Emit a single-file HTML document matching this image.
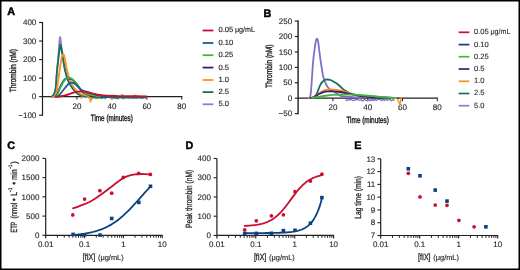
<!DOCTYPE html>
<html><head><meta charset="utf-8"><style>html,body{margin:0;padding:0;background:#fff;width:520px;height:270px;overflow:hidden}svg{display:block;}text{stroke:#231f20;stroke-width:0.12px;text-rendering:geometricPrecision}.t{stroke-width:0.4px}.t2{stroke-width:0.3px}svg{-webkit-font-smoothing:antialiased;will-change:transform}</style></head>
<body><svg width="520" height="270" viewBox="0 0 520 270" font-family='"Liberation Sans", sans-serif'>
<rect x="0" y="0" width="520" height="270" fill="#fff"/>


<text x="7.20" y="14.60" font-size="10.8" text-anchor="start" font-weight="bold" fill="#000" style="stroke:#000;stroke-width:0.45px">A</text>
<text x="263.40" y="16.90" font-size="10.8" text-anchor="start" font-weight="bold" fill="#000" style="stroke:#000;stroke-width:0.45px">B</text>
<text x="7.30" y="148.80" font-size="10.8" text-anchor="start" font-weight="bold" fill="#000" style="stroke:#000;stroke-width:0.45px">C</text>
<text x="185.40" y="148.80" font-size="10.8" text-anchor="start" font-weight="bold" fill="#000" style="stroke:#000;stroke-width:0.45px">D</text>
<text x="354.30" y="148.80" font-size="10.8" text-anchor="start" font-weight="bold" fill="#000" style="stroke:#000;stroke-width:0.45px">E</text>
<line x1="42.50" y1="22.00" x2="42.50" y2="115.79" stroke="#231f20" stroke-width="1.2" />
<line x1="39.10" y1="22.50" x2="42.50" y2="22.50" stroke="#231f20" stroke-width="1.15" />
<text x="36.30" y="25.00" font-size="8.0" text-anchor="end" font-weight="normal" fill="#231f20" style="stroke-width:0.12px">400</text>
<line x1="39.10" y1="41.04" x2="42.50" y2="41.04" stroke="#231f20" stroke-width="1.15" />
<text x="36.30" y="44.00" font-size="8.0" text-anchor="end" font-weight="normal" fill="#231f20" style="stroke-width:0.12px">300</text>
<line x1="39.10" y1="59.58" x2="42.50" y2="59.58" stroke="#231f20" stroke-width="1.15" />
<text x="36.30" y="62.00" font-size="8.0" text-anchor="end" font-weight="normal" fill="#231f20" style="stroke-width:0.12px">200</text>
<line x1="39.10" y1="78.11" x2="42.50" y2="78.11" stroke="#231f20" stroke-width="1.15" />
<text x="36.30" y="81.00" font-size="8.0" text-anchor="end" font-weight="normal" fill="#231f20" style="stroke-width:0.12px">100</text>
<line x1="39.10" y1="96.65" x2="42.50" y2="96.65" stroke="#231f20" stroke-width="1.15" />
<text x="36.30" y="99.00" font-size="8.0" text-anchor="end" font-weight="normal" fill="#231f20" style="stroke-width:0.12px">0</text>
<line x1="39.10" y1="115.19" x2="42.50" y2="115.19" stroke="#231f20" stroke-width="1.15" />
<text x="36.30" y="118.00" font-size="8.0" text-anchor="end" font-weight="normal" fill="#231f20" style="stroke-width:0.12px">−100</text>
<line x1="42.50" y1="96.65" x2="182.40" y2="96.65" stroke="#231f20" stroke-width="1.25" />
<line x1="76.95" y1="96.65" x2="76.95" y2="99.65" stroke="#231f20" stroke-width="1" />
<text x="76.95" y="108.85" font-size="8.0" text-anchor="middle" font-weight="normal" fill="#231f20" style="stroke-width:0.12px">20</text>
<line x1="111.90" y1="96.65" x2="111.90" y2="99.65" stroke="#231f20" stroke-width="1" />
<text x="111.90" y="108.85" font-size="8.0" text-anchor="middle" font-weight="normal" fill="#231f20" style="stroke-width:0.12px">40</text>
<line x1="146.85" y1="96.65" x2="146.85" y2="99.65" stroke="#231f20" stroke-width="1" />
<text x="146.85" y="108.85" font-size="8.0" text-anchor="middle" font-weight="normal" fill="#231f20" style="stroke-width:0.12px">60</text>
<line x1="181.80" y1="96.65" x2="181.80" y2="99.65" stroke="#231f20" stroke-width="1" />
<text x="181.80" y="108.85" font-size="8.0" text-anchor="middle" font-weight="normal" fill="#231f20" style="stroke-width:0.12px">80</text>
<text class="t" x="111.8" y="120.8" font-size="9" text-anchor="middle" fill="#231f20" textLength="42" lengthAdjust="spacingAndGlyphs">Time (minutes)</text>
<text class="t" transform="translate(15.9,70.6) rotate(-90)" font-size="9" text-anchor="middle" fill="#231f20" textLength="43.3" lengthAdjust="spacingAndGlyphs">Thrombin (nM)</text>
<line x1="202.60" y1="30.50" x2="213.40" y2="30.50" stroke="#c8102e" stroke-width="1.8" />
<text x="218.50" y="32.40" font-size="7.6" text-anchor="start" font-weight="normal" fill="#231f20" style="stroke-width:0.15px">0.05</text>
<text x="235.00" y="32.40" font-size="7.6" text-anchor="start" font-weight="normal" fill="#231f20" style="stroke-width:0.15px" textLength="20.0" lengthAdjust="spacingAndGlyphs">μg/mL</text>
<line x1="202.60" y1="43.00" x2="213.40" y2="43.00" stroke="#1f5a96" stroke-width="1.8" />
<text x="218.50" y="44.90" font-size="7.6" text-anchor="start" font-weight="normal" fill="#231f20" style="stroke-width:0.15px">0.10</text>
<line x1="202.60" y1="55.20" x2="213.40" y2="55.20" stroke="#3db54a" stroke-width="1.8" />
<text x="218.50" y="57.10" font-size="7.6" text-anchor="start" font-weight="normal" fill="#231f20" style="stroke-width:0.15px">0.25</text>
<line x1="202.60" y1="67.60" x2="213.40" y2="67.60" stroke="#42196a" stroke-width="1.8" />
<text x="218.50" y="69.50" font-size="7.6" text-anchor="start" font-weight="normal" fill="#231f20" style="stroke-width:0.15px">0.5</text>
<line x1="202.60" y1="80.00" x2="213.40" y2="80.00" stroke="#f7941d" stroke-width="1.8" />
<text x="218.50" y="81.90" font-size="7.6" text-anchor="start" font-weight="normal" fill="#231f20" style="stroke-width:0.15px">1.0</text>
<line x1="202.60" y1="92.10" x2="213.40" y2="92.10" stroke="#17705e" stroke-width="1.8" />
<text x="218.50" y="94.00" font-size="7.6" text-anchor="start" font-weight="normal" fill="#231f20" style="stroke-width:0.15px">2.5</text>
<line x1="202.60" y1="104.30" x2="213.40" y2="104.30" stroke="#8781c9" stroke-width="1.8" />
<text x="218.50" y="106.20" font-size="7.6" text-anchor="start" font-weight="normal" fill="#231f20" style="stroke-width:0.15px">5.0</text>
<line x1="298.10" y1="20.58" x2="298.10" y2="114.22" stroke="#231f20" stroke-width="1.4" />
<line x1="294.80" y1="21.08" x2="298.10" y2="21.08" stroke="#231f20" stroke-width="1.15" />
<text x="292.20" y="24.00" font-size="8.0" text-anchor="end" font-weight="normal" fill="#231f20" >250</text>
<line x1="294.80" y1="36.50" x2="298.10" y2="36.50" stroke="#231f20" stroke-width="1.15" />
<text x="292.20" y="39.00" font-size="8.0" text-anchor="end" font-weight="normal" fill="#231f20" >200</text>
<line x1="294.80" y1="51.93" x2="298.10" y2="51.93" stroke="#231f20" stroke-width="1.15" />
<text x="292.20" y="55.00" font-size="8.0" text-anchor="end" font-weight="normal" fill="#231f20" >150</text>
<line x1="294.80" y1="67.35" x2="298.10" y2="67.35" stroke="#231f20" stroke-width="1.15" />
<text x="292.20" y="70.00" font-size="8.0" text-anchor="end" font-weight="normal" fill="#231f20" >100</text>
<line x1="294.80" y1="82.78" x2="298.10" y2="82.78" stroke="#231f20" stroke-width="1.15" />
<text x="292.20" y="85.00" font-size="8.0" text-anchor="end" font-weight="normal" fill="#231f20" >50</text>
<line x1="294.80" y1="98.20" x2="298.10" y2="98.20" stroke="#231f20" stroke-width="1.15" />
<text x="292.20" y="101.00" font-size="8.0" text-anchor="end" font-weight="normal" fill="#231f20" >0</text>
<line x1="294.80" y1="113.62" x2="298.10" y2="113.62" stroke="#231f20" stroke-width="1.15" />
<text x="292.20" y="116.00" font-size="8.0" text-anchor="end" font-weight="normal" fill="#231f20" >−50</text>
<line x1="298.10" y1="98.20" x2="437.90" y2="98.20" stroke="#231f20" stroke-width="1.3" />
<line x1="332.90" y1="98.20" x2="332.90" y2="101.20" stroke="#231f20" stroke-width="1" />
<text x="332.90" y="109.80" font-size="8.0" text-anchor="middle" font-weight="normal" fill="#231f20" >20</text>
<line x1="367.70" y1="98.20" x2="367.70" y2="101.20" stroke="#231f20" stroke-width="1" />
<text x="367.70" y="109.80" font-size="8.0" text-anchor="middle" font-weight="normal" fill="#231f20" >40</text>
<line x1="402.50" y1="98.20" x2="402.50" y2="101.20" stroke="#231f20" stroke-width="1" />
<text x="402.50" y="109.80" font-size="8.0" text-anchor="middle" font-weight="normal" fill="#231f20" >60</text>
<line x1="437.30" y1="98.20" x2="437.30" y2="101.20" stroke="#231f20" stroke-width="1" />
<text x="437.30" y="109.80" font-size="8.0" text-anchor="middle" font-weight="normal" fill="#231f20" >80</text>
<text class="t" x="367.7" y="122.6" font-size="9" text-anchor="middle" fill="#231f20" textLength="42.5" lengthAdjust="spacingAndGlyphs">Time (minutes)</text>
<text class="t" transform="translate(272,66.2) rotate(-90)" font-size="9" text-anchor="middle" fill="#231f20" textLength="43.5" lengthAdjust="spacingAndGlyphs">Thrombin (nM)</text>
<line x1="458.60" y1="32.30" x2="469.40" y2="32.30" stroke="#c8102e" stroke-width="1.7" />
<text x="474.00" y="34.20" font-size="7.6" text-anchor="start" font-weight="normal" fill="#231f20" style="stroke-width:0.1px">0.05</text>
<text x="490.50" y="34.20" font-size="7.6" text-anchor="start" font-weight="normal" fill="#231f20" style="stroke-width:0.1px" textLength="20.0" lengthAdjust="spacingAndGlyphs">μg/mL</text>
<line x1="458.60" y1="44.60" x2="469.40" y2="44.60" stroke="#0b3f80" stroke-width="1.7" />
<text x="474.00" y="46.50" font-size="7.6" text-anchor="start" font-weight="normal" fill="#231f20" style="stroke-width:0.1px">0.10</text>
<line x1="458.60" y1="56.70" x2="469.40" y2="56.70" stroke="#3db54a" stroke-width="1.7" />
<text x="474.00" y="58.60" font-size="7.6" text-anchor="start" font-weight="normal" fill="#231f20" style="stroke-width:0.1px">0.25</text>
<line x1="458.60" y1="69.00" x2="469.40" y2="69.00" stroke="#42196a" stroke-width="1.7" />
<text x="474.00" y="70.90" font-size="7.6" text-anchor="start" font-weight="normal" fill="#231f20" style="stroke-width:0.1px">0.5</text>
<line x1="458.60" y1="81.30" x2="469.40" y2="81.30" stroke="#f7941d" stroke-width="1.7" />
<text x="474.00" y="83.20" font-size="7.6" text-anchor="start" font-weight="normal" fill="#231f20" style="stroke-width:0.1px">1.0</text>
<line x1="458.60" y1="93.50" x2="469.40" y2="93.50" stroke="#17705e" stroke-width="1.7" />
<text x="474.00" y="95.40" font-size="7.6" text-anchor="start" font-weight="normal" fill="#231f20" style="stroke-width:0.1px">2.5</text>
<line x1="458.60" y1="105.70" x2="469.40" y2="105.70" stroke="#8781c9" stroke-width="1.7" />
<text x="474.00" y="107.60" font-size="7.6" text-anchor="start" font-weight="normal" fill="#231f20" style="stroke-width:0.1px">5.0</text>
<line x1="45.70" y1="158.40" x2="45.70" y2="238.30" stroke="#231f20" stroke-width="1.2" />
<line x1="42.40" y1="158.40" x2="45.70" y2="158.40" stroke="#231f20" stroke-width="1.1" />
<text x="39.40" y="161.00" font-size="8.0" text-anchor="end" font-weight="normal" fill="#231f20" >2000</text>
<line x1="42.40" y1="177.62" x2="45.70" y2="177.62" stroke="#231f20" stroke-width="1.1" />
<text x="39.40" y="180.00" font-size="8.0" text-anchor="end" font-weight="normal" fill="#231f20" >1500</text>
<line x1="42.40" y1="196.85" x2="45.70" y2="196.85" stroke="#231f20" stroke-width="1.1" />
<text x="39.40" y="200.00" font-size="8.0" text-anchor="end" font-weight="normal" fill="#231f20" >1000</text>
<line x1="42.40" y1="216.08" x2="45.70" y2="216.08" stroke="#231f20" stroke-width="1.1" />
<text x="39.40" y="219.00" font-size="8.0" text-anchor="end" font-weight="normal" fill="#231f20" >500</text>
<line x1="42.40" y1="235.30" x2="45.70" y2="235.30" stroke="#231f20" stroke-width="1.1" />
<text x="39.40" y="238.00" font-size="8.0" text-anchor="end" font-weight="normal" fill="#231f20" >0</text>
<line x1="45.70" y1="235.30" x2="162.75" y2="235.30" stroke="#231f20" stroke-width="1.2" />
<line x1="57.40" y1="235.30" x2="57.40" y2="237.70" stroke="#231f20" stroke-width="1.0" />
<line x1="64.24" y1="235.30" x2="64.24" y2="237.70" stroke="#231f20" stroke-width="1.0" />
<line x1="69.09" y1="235.30" x2="69.09" y2="237.70" stroke="#231f20" stroke-width="1.0" />
<line x1="72.85" y1="235.30" x2="72.85" y2="237.70" stroke="#231f20" stroke-width="1.0" />
<line x1="75.93" y1="235.30" x2="75.93" y2="237.70" stroke="#231f20" stroke-width="1.0" />
<line x1="78.53" y1="235.30" x2="78.53" y2="237.70" stroke="#231f20" stroke-width="1.0" />
<line x1="80.79" y1="235.30" x2="80.79" y2="237.70" stroke="#231f20" stroke-width="1.0" />
<line x1="82.77" y1="235.30" x2="82.77" y2="237.70" stroke="#231f20" stroke-width="1.0" />
<line x1="84.55" y1="235.30" x2="84.55" y2="238.30" stroke="#231f20" stroke-width="1.1" />
<line x1="96.25" y1="235.30" x2="96.25" y2="237.70" stroke="#231f20" stroke-width="1.0" />
<line x1="103.09" y1="235.30" x2="103.09" y2="237.70" stroke="#231f20" stroke-width="1.0" />
<line x1="107.94" y1="235.30" x2="107.94" y2="237.70" stroke="#231f20" stroke-width="1.0" />
<line x1="111.70" y1="235.30" x2="111.70" y2="237.70" stroke="#231f20" stroke-width="1.0" />
<line x1="114.78" y1="235.30" x2="114.78" y2="237.70" stroke="#231f20" stroke-width="1.0" />
<line x1="117.38" y1="235.30" x2="117.38" y2="237.70" stroke="#231f20" stroke-width="1.0" />
<line x1="119.64" y1="235.30" x2="119.64" y2="237.70" stroke="#231f20" stroke-width="1.0" />
<line x1="121.62" y1="235.30" x2="121.62" y2="237.70" stroke="#231f20" stroke-width="1.0" />
<line x1="123.40" y1="235.30" x2="123.40" y2="238.30" stroke="#231f20" stroke-width="1.1" />
<line x1="135.10" y1="235.30" x2="135.10" y2="237.70" stroke="#231f20" stroke-width="1.0" />
<line x1="141.94" y1="235.30" x2="141.94" y2="237.70" stroke="#231f20" stroke-width="1.0" />
<line x1="146.79" y1="235.30" x2="146.79" y2="237.70" stroke="#231f20" stroke-width="1.0" />
<line x1="150.55" y1="235.30" x2="150.55" y2="237.70" stroke="#231f20" stroke-width="1.0" />
<line x1="153.63" y1="235.30" x2="153.63" y2="237.70" stroke="#231f20" stroke-width="1.0" />
<line x1="156.23" y1="235.30" x2="156.23" y2="237.70" stroke="#231f20" stroke-width="1.0" />
<line x1="158.49" y1="235.30" x2="158.49" y2="237.70" stroke="#231f20" stroke-width="1.0" />
<line x1="160.47" y1="235.30" x2="160.47" y2="237.70" stroke="#231f20" stroke-width="1.0" />
<line x1="162.25" y1="235.30" x2="162.25" y2="238.30" stroke="#231f20" stroke-width="1.1" />
<text x="45.70" y="247.00" font-size="8.0" text-anchor="middle" font-weight="normal" fill="#231f20" >0.01</text>
<text x="84.55" y="247.00" font-size="8.0" text-anchor="middle" font-weight="normal" fill="#231f20" >0.1</text>
<text x="123.40" y="247.00" font-size="8.0" text-anchor="middle" font-weight="normal" fill="#231f20" >1</text>
<text x="162.25" y="247.00" font-size="8.0" text-anchor="middle" font-weight="normal" fill="#231f20" >10</text>
<text class="t2" y="259.90" font-size="9" fill="#231f20"><tspan x="82.80" textLength="12.4" lengthAdjust="spacingAndGlyphs">[fIX]</tspan><tspan dx="2.8" font-size="7.4" style="stroke-width:0.15px">(μg/mL)</tspan></text>
<line x1="216.90" y1="158.50" x2="216.90" y2="238.40" stroke="#231f20" stroke-width="1.2" />
<line x1="213.60" y1="158.50" x2="216.90" y2="158.50" stroke="#231f20" stroke-width="1.1" />
<text x="210.90" y="161.00" font-size="8.0" text-anchor="end" font-weight="normal" fill="#231f20" >400</text>
<line x1="213.60" y1="177.72" x2="216.90" y2="177.72" stroke="#231f20" stroke-width="1.1" />
<text x="210.90" y="180.00" font-size="8.0" text-anchor="end" font-weight="normal" fill="#231f20" >300</text>
<line x1="213.60" y1="196.95" x2="216.90" y2="196.95" stroke="#231f20" stroke-width="1.1" />
<text x="210.90" y="200.00" font-size="8.0" text-anchor="end" font-weight="normal" fill="#231f20" >200</text>
<line x1="213.60" y1="216.18" x2="216.90" y2="216.18" stroke="#231f20" stroke-width="1.1" />
<text x="210.90" y="219.00" font-size="8.0" text-anchor="end" font-weight="normal" fill="#231f20" >100</text>
<line x1="213.60" y1="235.40" x2="216.90" y2="235.40" stroke="#231f20" stroke-width="1.1" />
<text x="210.90" y="238.00" font-size="8.0" text-anchor="end" font-weight="normal" fill="#231f20" >0</text>
<line x1="216.90" y1="235.40" x2="334.10" y2="235.40" stroke="#231f20" stroke-width="1.2" />
<line x1="228.61" y1="235.40" x2="228.61" y2="237.80" stroke="#231f20" stroke-width="1.0" />
<line x1="235.46" y1="235.40" x2="235.46" y2="237.80" stroke="#231f20" stroke-width="1.0" />
<line x1="240.32" y1="235.40" x2="240.32" y2="237.80" stroke="#231f20" stroke-width="1.0" />
<line x1="244.09" y1="235.40" x2="244.09" y2="237.80" stroke="#231f20" stroke-width="1.0" />
<line x1="247.17" y1="235.40" x2="247.17" y2="237.80" stroke="#231f20" stroke-width="1.0" />
<line x1="249.77" y1="235.40" x2="249.77" y2="237.80" stroke="#231f20" stroke-width="1.0" />
<line x1="252.03" y1="235.40" x2="252.03" y2="237.80" stroke="#231f20" stroke-width="1.0" />
<line x1="254.02" y1="235.40" x2="254.02" y2="237.80" stroke="#231f20" stroke-width="1.0" />
<line x1="255.80" y1="235.40" x2="255.80" y2="238.40" stroke="#231f20" stroke-width="1.1" />
<line x1="267.51" y1="235.40" x2="267.51" y2="237.80" stroke="#231f20" stroke-width="1.0" />
<line x1="274.36" y1="235.40" x2="274.36" y2="237.80" stroke="#231f20" stroke-width="1.0" />
<line x1="279.22" y1="235.40" x2="279.22" y2="237.80" stroke="#231f20" stroke-width="1.0" />
<line x1="282.99" y1="235.40" x2="282.99" y2="237.80" stroke="#231f20" stroke-width="1.0" />
<line x1="286.07" y1="235.40" x2="286.07" y2="237.80" stroke="#231f20" stroke-width="1.0" />
<line x1="288.67" y1="235.40" x2="288.67" y2="237.80" stroke="#231f20" stroke-width="1.0" />
<line x1="290.93" y1="235.40" x2="290.93" y2="237.80" stroke="#231f20" stroke-width="1.0" />
<line x1="292.92" y1="235.40" x2="292.92" y2="237.80" stroke="#231f20" stroke-width="1.0" />
<line x1="294.70" y1="235.40" x2="294.70" y2="238.40" stroke="#231f20" stroke-width="1.1" />
<line x1="306.41" y1="235.40" x2="306.41" y2="237.80" stroke="#231f20" stroke-width="1.0" />
<line x1="313.26" y1="235.40" x2="313.26" y2="237.80" stroke="#231f20" stroke-width="1.0" />
<line x1="318.12" y1="235.40" x2="318.12" y2="237.80" stroke="#231f20" stroke-width="1.0" />
<line x1="321.89" y1="235.40" x2="321.89" y2="237.80" stroke="#231f20" stroke-width="1.0" />
<line x1="324.97" y1="235.40" x2="324.97" y2="237.80" stroke="#231f20" stroke-width="1.0" />
<line x1="327.57" y1="235.40" x2="327.57" y2="237.80" stroke="#231f20" stroke-width="1.0" />
<line x1="329.83" y1="235.40" x2="329.83" y2="237.80" stroke="#231f20" stroke-width="1.0" />
<line x1="331.82" y1="235.40" x2="331.82" y2="237.80" stroke="#231f20" stroke-width="1.0" />
<line x1="333.60" y1="235.40" x2="333.60" y2="238.40" stroke="#231f20" stroke-width="1.1" />
<text x="216.90" y="247.00" font-size="8.0" text-anchor="middle" font-weight="normal" fill="#231f20" >0.01</text>
<text x="255.80" y="247.00" font-size="8.0" text-anchor="middle" font-weight="normal" fill="#231f20" >0.1</text>
<text x="294.70" y="247.00" font-size="8.0" text-anchor="middle" font-weight="normal" fill="#231f20" >1</text>
<text x="333.60" y="247.00" font-size="8.0" text-anchor="middle" font-weight="normal" fill="#231f20" >10</text>
<text class="t2" y="260.00" font-size="9" fill="#231f20"><tspan x="253.90" textLength="12.4" lengthAdjust="spacingAndGlyphs">[fIX]</tspan><tspan dx="2.8" font-size="7.4" style="stroke-width:0.15px">(μg/mL)</tspan></text>
<line x1="380.70" y1="158.82" x2="380.70" y2="238.50" stroke="#231f20" stroke-width="1.2" />
<line x1="377.40" y1="158.82" x2="380.70" y2="158.82" stroke="#231f20" stroke-width="1.1" />
<text x="375.30" y="162.00" font-size="8.0" text-anchor="end" font-weight="normal" fill="#231f20" >13</text>
<line x1="377.40" y1="171.60" x2="380.70" y2="171.60" stroke="#231f20" stroke-width="1.1" />
<text x="375.30" y="174.00" font-size="8.0" text-anchor="end" font-weight="normal" fill="#231f20" >12</text>
<line x1="377.40" y1="184.38" x2="380.70" y2="184.38" stroke="#231f20" stroke-width="1.1" />
<text x="375.30" y="187.00" font-size="8.0" text-anchor="end" font-weight="normal" fill="#231f20" >11</text>
<line x1="377.40" y1="197.16" x2="380.70" y2="197.16" stroke="#231f20" stroke-width="1.1" />
<text x="375.30" y="200.00" font-size="8.0" text-anchor="end" font-weight="normal" fill="#231f20" >10</text>
<line x1="377.40" y1="209.94" x2="380.70" y2="209.94" stroke="#231f20" stroke-width="1.1" />
<text x="375.30" y="213.00" font-size="8.0" text-anchor="end" font-weight="normal" fill="#231f20" >9</text>
<line x1="377.40" y1="222.72" x2="380.70" y2="222.72" stroke="#231f20" stroke-width="1.1" />
<text x="375.30" y="225.00" font-size="8.0" text-anchor="end" font-weight="normal" fill="#231f20" >8</text>
<line x1="377.40" y1="235.50" x2="380.70" y2="235.50" stroke="#231f20" stroke-width="1.1" />
<text x="375.30" y="238.00" font-size="8.0" text-anchor="end" font-weight="normal" fill="#231f20" >7</text>
<line x1="380.70" y1="235.50" x2="498.20" y2="235.50" stroke="#231f20" stroke-width="1.2" />
<line x1="392.44" y1="235.50" x2="392.44" y2="237.90" stroke="#231f20" stroke-width="1.0" />
<line x1="399.31" y1="235.50" x2="399.31" y2="237.90" stroke="#231f20" stroke-width="1.0" />
<line x1="404.18" y1="235.50" x2="404.18" y2="237.90" stroke="#231f20" stroke-width="1.0" />
<line x1="407.96" y1="235.50" x2="407.96" y2="237.90" stroke="#231f20" stroke-width="1.0" />
<line x1="411.05" y1="235.50" x2="411.05" y2="237.90" stroke="#231f20" stroke-width="1.0" />
<line x1="413.66" y1="235.50" x2="413.66" y2="237.90" stroke="#231f20" stroke-width="1.0" />
<line x1="415.92" y1="235.50" x2="415.92" y2="237.90" stroke="#231f20" stroke-width="1.0" />
<line x1="417.92" y1="235.50" x2="417.92" y2="237.90" stroke="#231f20" stroke-width="1.0" />
<line x1="419.70" y1="235.50" x2="419.70" y2="238.50" stroke="#231f20" stroke-width="1.1" />
<line x1="431.44" y1="235.50" x2="431.44" y2="237.90" stroke="#231f20" stroke-width="1.0" />
<line x1="438.31" y1="235.50" x2="438.31" y2="237.90" stroke="#231f20" stroke-width="1.0" />
<line x1="443.18" y1="235.50" x2="443.18" y2="237.90" stroke="#231f20" stroke-width="1.0" />
<line x1="446.96" y1="235.50" x2="446.96" y2="237.90" stroke="#231f20" stroke-width="1.0" />
<line x1="450.05" y1="235.50" x2="450.05" y2="237.90" stroke="#231f20" stroke-width="1.0" />
<line x1="452.66" y1="235.50" x2="452.66" y2="237.90" stroke="#231f20" stroke-width="1.0" />
<line x1="454.92" y1="235.50" x2="454.92" y2="237.90" stroke="#231f20" stroke-width="1.0" />
<line x1="456.92" y1="235.50" x2="456.92" y2="237.90" stroke="#231f20" stroke-width="1.0" />
<line x1="458.70" y1="235.50" x2="458.70" y2="238.50" stroke="#231f20" stroke-width="1.1" />
<line x1="470.44" y1="235.50" x2="470.44" y2="237.90" stroke="#231f20" stroke-width="1.0" />
<line x1="477.31" y1="235.50" x2="477.31" y2="237.90" stroke="#231f20" stroke-width="1.0" />
<line x1="482.18" y1="235.50" x2="482.18" y2="237.90" stroke="#231f20" stroke-width="1.0" />
<line x1="485.96" y1="235.50" x2="485.96" y2="237.90" stroke="#231f20" stroke-width="1.0" />
<line x1="489.05" y1="235.50" x2="489.05" y2="237.90" stroke="#231f20" stroke-width="1.0" />
<line x1="491.66" y1="235.50" x2="491.66" y2="237.90" stroke="#231f20" stroke-width="1.0" />
<line x1="493.92" y1="235.50" x2="493.92" y2="237.90" stroke="#231f20" stroke-width="1.0" />
<line x1="495.92" y1="235.50" x2="495.92" y2="237.90" stroke="#231f20" stroke-width="1.0" />
<line x1="497.70" y1="235.50" x2="497.70" y2="238.50" stroke="#231f20" stroke-width="1.1" />
<text x="380.70" y="247.00" font-size="8.0" text-anchor="middle" font-weight="normal" fill="#231f20" >0.01</text>
<text x="419.70" y="247.00" font-size="8.0" text-anchor="middle" font-weight="normal" fill="#231f20" >0.1</text>
<text x="458.70" y="247.00" font-size="8.0" text-anchor="middle" font-weight="normal" fill="#231f20" >1</text>
<text x="497.70" y="247.00" font-size="8.0" text-anchor="middle" font-weight="normal" fill="#231f20" >10</text>
<text class="t2" y="260.10" font-size="9" fill="#231f20"><tspan x="418.10" textLength="12.4" lengthAdjust="spacingAndGlyphs">[fIX]</tspan><tspan dx="2.8" font-size="7.4" style="stroke-width:0.15px">(μg/mL)</tspan></text>
<text class="t2" transform="translate(16.5,0) rotate(-90)" x="-232.50" y="0" font-size="9" fill="#231f20" textLength="10.8" lengthAdjust="spacingAndGlyphs">ETP</text>
<text class="t2" transform="translate(16.5,0) rotate(-90)" x="-218.60" y="0" font-size="9" fill="#231f20" textLength="15.8" lengthAdjust="spacingAndGlyphs">(nmol</text>
<text class="t2" transform="translate(16.5,0) rotate(-90)" x="-201.30" y="0" font-size="9" fill="#231f20" textLength="3.0" lengthAdjust="spacingAndGlyphs">•</text>
<text class="t2" transform="translate(16.5,0) rotate(-90)" x="-195.80" y="0" font-size="9" fill="#231f20" textLength="3.8" lengthAdjust="spacingAndGlyphs">L</text>
<text class="t2" transform="translate(16.5,0) rotate(-90)" x="-192.30" y="-5.0" font-size="5.4" fill="#231f20" textLength="4.6" lengthAdjust="spacingAndGlyphs">−1</text>
<text class="t2" transform="translate(16.5,0) rotate(-90)" x="-184.70" y="0" font-size="9" fill="#231f20" textLength="3.0" lengthAdjust="spacingAndGlyphs">•</text>
<text class="t2" transform="translate(16.5,0) rotate(-90)" x="-179.80" y="0" font-size="9" fill="#231f20" textLength="10.4" lengthAdjust="spacingAndGlyphs">min</text>
<text class="t2" transform="translate(16.5,0) rotate(-90)" x="-168.80" y="-5.0" font-size="5.4" fill="#231f20" textLength="4.2" lengthAdjust="spacingAndGlyphs">−1</text>
<text class="t2" transform="translate(16.5,0) rotate(-90)" x="-164.00" y="0" font-size="9" fill="#231f20" textLength="2.8" lengthAdjust="spacingAndGlyphs">)</text>
<text class="t2" transform="translate(191.9,198.9) rotate(-90)" font-size="9" text-anchor="middle" fill="#231f20" textLength="58" lengthAdjust="spacingAndGlyphs">Peak thrombin (nM)</text>
<text class="t2" transform="translate(361,197.4) rotate(-90)" font-size="9" text-anchor="middle" fill="#231f20" textLength="42.5" lengthAdjust="spacingAndGlyphs">Lag time (min)</text>
<path d="M73.00,208.30 C74.17,207.88 77.17,206.88 80.00,205.80 C82.83,204.72 86.67,203.55 90.00,201.80 C93.33,200.05 96.67,197.63 100.00,195.30 C103.33,192.97 106.67,190.32 110.00,187.80 C113.33,185.28 117.40,182.02 120.00,180.20 C122.60,178.38 123.93,177.72 125.60,176.90 C127.27,176.08 128.43,175.72 130.00,175.30 C131.57,174.88 133.33,174.62 135.00,174.40 C136.67,174.18 138.33,174.05 140.00,174.00 C141.67,173.95 143.27,174.03 145.00,174.10 C146.73,174.17 149.50,174.35 150.40,174.40" fill="none" stroke="#c8102e" stroke-width="1.8" stroke-linejoin="round" stroke-linecap="round" />
<path d="M73.00,235.02 L74.31,234.90 L75.63,234.78 L76.94,234.64 L78.25,234.50 L79.57,234.35 L80.88,234.18 L82.19,234.00 L83.51,233.81 L84.82,233.60 L86.14,233.38 L87.45,233.14 L88.76,232.88 L90.08,232.61 L91.39,232.32 L92.70,232.00 L94.02,231.66 L95.33,231.30 L96.64,230.92 L97.96,230.50 L99.27,230.06 L100.58,229.59 L101.90,229.09 L103.21,228.56 L104.53,227.99 L105.84,227.39 L107.15,226.75 L108.47,226.08 L109.78,225.36 L111.09,224.61 L112.41,223.81 L113.72,222.97 L115.03,222.09 L116.35,221.16 L117.66,220.19 L118.97,219.18 L120.29,218.12 L121.60,217.02 L122.92,215.87 L124.23,214.69 L125.54,213.46 L126.86,212.20 L128.17,210.89 L129.48,209.56 L130.80,208.19 L132.11,206.80 L133.42,205.38 L134.74,203.94 L136.05,202.49 L137.36,201.02 L138.68,199.54 L139.99,198.06 L141.31,196.58 L142.62,195.10 L143.93,193.63 L145.25,192.18 L146.56,190.74 L147.87,189.33 L149.19,187.94 L150.50,186.58" fill="none" stroke="#0b4282" stroke-width="1.8" stroke-linejoin="round" stroke-linecap="round" />
<path d="M244.70,225.91 L246.01,225.84 L247.32,225.76 L248.63,225.68 L249.94,225.58 L251.25,225.46 L252.56,225.33 L253.87,225.18 L255.18,225.02 L256.49,224.83 L257.80,224.61 L259.11,224.37 L260.42,224.09 L261.73,223.78 L263.04,223.42 L264.35,223.02 L265.66,222.57 L266.97,222.07 L268.28,221.51 L269.59,220.88 L270.90,220.18 L272.21,219.41 L273.52,218.55 L274.83,217.61 L276.14,216.58 L277.45,215.46 L278.76,214.25 L280.07,212.94 L281.38,211.55 L282.69,210.07 L284.01,208.51 L285.32,206.88 L286.63,205.19 L287.94,203.46 L289.25,201.69 L290.56,199.90 L291.87,198.11 L293.18,196.34 L294.49,194.60 L295.80,192.90 L297.11,191.26 L298.42,189.69 L299.73,188.19 L301.04,186.78 L302.35,185.46 L303.66,184.23 L304.97,183.10 L306.28,182.05 L307.59,181.10 L308.90,180.23 L310.21,179.44 L311.52,178.73 L312.83,178.09 L314.14,177.51 L315.45,177.00 L316.76,176.54 L318.07,176.13 L319.38,175.77 L320.69,175.45 L322.00,175.17" fill="none" stroke="#c8102e" stroke-width="1.8" stroke-linejoin="round" stroke-linecap="round" />
<path d="M244.70,233.08 L246.01,233.08 L247.32,233.08 L248.63,233.08 L249.94,233.08 L251.25,233.07 L252.56,233.07 L253.87,233.07 L255.18,233.07 L256.49,233.06 L257.80,233.06 L259.11,233.06 L260.42,233.05 L261.73,233.05 L263.04,233.04 L264.35,233.03 L265.66,233.02 L266.97,233.01 L268.28,233.00 L269.59,232.99 L270.90,232.97 L272.21,232.95 L273.52,232.93 L274.83,232.91 L276.14,232.88 L277.45,232.85 L278.76,232.81 L280.07,232.77 L281.38,232.72 L282.69,232.66 L284.01,232.59 L285.32,232.52 L286.63,232.43 L287.94,232.32 L289.25,232.20 L290.56,232.06 L291.87,231.90 L293.18,231.71 L294.49,231.49 L295.80,231.24 L297.11,230.95 L298.42,230.61 L299.73,230.22 L301.04,229.77 L302.35,229.24 L303.66,228.63 L304.97,227.93 L306.28,227.11 L307.59,226.17 L308.90,225.07 L310.21,223.80 L311.52,222.34 L312.83,220.64 L314.14,218.67 L315.45,216.39 L316.76,213.74 L318.07,210.68 L319.38,207.14 L320.69,203.03 L322.00,198.28" fill="none" stroke="#0b4282" stroke-width="1.8" stroke-linejoin="round" stroke-linecap="round" />
<circle cx="72.80" cy="214.90" r="1.85" fill="#c8102e"/>
<circle cx="84.60" cy="199.10" r="1.85" fill="#c8102e"/>
<circle cx="99.90" cy="190.70" r="1.85" fill="#c8102e"/>
<circle cx="111.70" cy="193.20" r="1.85" fill="#c8102e"/>
<circle cx="123.30" cy="177.40" r="1.85" fill="#c8102e"/>
<circle cx="138.70" cy="173.30" r="1.85" fill="#c8102e"/>
<circle cx="150.40" cy="174.40" r="1.85" fill="#c8102e"/>
<rect x="71.30" y="232.60" width="3.6" height="3.6" fill="#0b4282"/>
<rect x="82.80" y="233.00" width="3.6" height="3.6" fill="#0b4282"/>
<rect x="98.30" y="233.30" width="3.6" height="3.6" fill="#0b4282"/>
<rect x="109.90" y="216.70" width="3.6" height="3.6" fill="#0b4282"/>
<rect x="137.00" y="200.60" width="3.6" height="3.6" fill="#0b4282"/>
<rect x="148.70" y="184.50" width="3.6" height="3.6" fill="#0b4282"/>
<circle cx="244.70" cy="229.90" r="1.85" fill="#c8102e"/>
<circle cx="256.30" cy="220.80" r="1.85" fill="#c8102e"/>
<circle cx="271.40" cy="215.80" r="1.85" fill="#c8102e"/>
<circle cx="283.40" cy="214.80" r="1.85" fill="#c8102e"/>
<circle cx="295.00" cy="191.70" r="1.85" fill="#c8102e"/>
<circle cx="310.40" cy="181.10" r="1.85" fill="#c8102e"/>
<circle cx="321.90" cy="174.20" r="1.85" fill="#c8102e"/>
<rect x="242.90" y="231.80" width="3.6" height="3.6" fill="#0b4282"/>
<rect x="254.50" y="231.60" width="3.6" height="3.6" fill="#0b4282"/>
<rect x="269.60" y="231.50" width="3.6" height="3.6" fill="#0b4282"/>
<rect x="281.60" y="228.80" width="3.6" height="3.6" fill="#0b4282"/>
<rect x="293.20" y="228.50" width="3.6" height="3.6" fill="#0b4282"/>
<rect x="308.60" y="221.40" width="3.6" height="3.6" fill="#0b4282"/>
<rect x="320.10" y="195.80" width="3.6" height="3.6" fill="#0b4282"/>
<circle cx="408.30" cy="173.30" r="1.85" fill="#c8102e"/>
<circle cx="420.00" cy="196.90" r="1.85" fill="#c8102e"/>
<circle cx="435.20" cy="205.10" r="1.85" fill="#c8102e"/>
<circle cx="447.00" cy="205.30" r="1.85" fill="#c8102e"/>
<circle cx="458.90" cy="220.30" r="1.85" fill="#c8102e"/>
<circle cx="474.10" cy="226.80" r="1.85" fill="#c8102e"/>
<rect x="406.50" y="167.00" width="3.6" height="3.6" fill="#0b4282"/>
<rect x="418.20" y="174.00" width="3.6" height="3.6" fill="#0b4282"/>
<rect x="433.40" y="188.30" width="3.6" height="3.6" fill="#0b4282"/>
<rect x="445.20" y="199.30" width="3.6" height="3.6" fill="#0b4282"/>
<rect x="484.10" y="225.00" width="3.6" height="3.6" fill="#0b4282"/>
<path d="M88.00,97.24 L89.93,98.37 L91.30,97.89 L92.85,98.17 L94.73,97.17 L95.87,98.50 L97.41,98.37 L98.53,97.80 L100.34,97.41 L102.37,98.62 L103.52,97.05 L105.16,98.69 L106.65,97.39 L108.17,97.05 L109.51,97.79 L111.10,97.42 L112.44,97.39 L114.00,97.52 L115.14,98.51 L116.80,98.16 L118.10,98.79 L120.04,97.22 L121.48,98.30 L123.28,98.69 L124.81,98.49 L126.57,97.55 L128.26,98.59 L130.19,97.91 L131.88,97.06 L133.23,98.44 L134.75,97.31 L136.39,98.27 L138.16,97.67 L139.70,97.92 L141.57,97.94 L143.07,97.88 L144.22,97.08 L146.00,97.90" fill="none" stroke="#3db54a" stroke-width="1.3" stroke-linejoin="round" stroke-linecap="round" />
<path d="M81.40,98.40 L82.00,95.50" fill="none" stroke="#f7941d" stroke-width="1.3" stroke-linejoin="round" stroke-linecap="round" />
<path d="M87.50,95.60 L89.80,97.50 L90.30,101.90 L91.50,99.60 L93.00,97.30 L94.00,97.60 L95.50,98.10 L97.50,97.40 L99.70,98.30 L101.00,97.60" fill="none" stroke="#f7941d" stroke-width="1.4" stroke-linejoin="round" stroke-linecap="round" />
<path d="M111.00,98.40 L113.00,98.60 L114.00,97.60" fill="none" stroke="#f7941d" stroke-width="1.2" stroke-linejoin="round" stroke-linecap="round" />
<path d="M128.00,98.20 L130.00,98.40 L131.00,97.80" fill="none" stroke="#f7941d" stroke-width="1.2" stroke-linejoin="round" stroke-linecap="round" />
<path d="M133.50,96.00 L135.20,95.00 L137.00,96.00" fill="none" stroke="#f7941d" stroke-width="1.3" stroke-linejoin="round" stroke-linecap="round" />
<path d="M100.00,97.39 L101.42,97.78 L102.76,97.64 L104.42,97.07 L106.22,97.04 L107.95,97.08 L109.31,97.51 L111.46,97.15 L112.96,97.75 L115.25,97.69 L116.94,98.17 L118.25,98.03 L119.82,97.17 L121.21,97.37 L123.35,97.22 L125.24,97.77 L126.90,97.66 L128.23,97.07 L129.71,97.82 L131.43,97.38 L133.32,97.54 L134.91,97.95 L136.92,97.29 L138.80,97.63 L141.01,97.88 L142.58,98.18 L143.97,97.50 L146.00,97.60" fill="none" stroke="#17705e" stroke-width="1.2" stroke-linejoin="round" stroke-linecap="round" />
<path d="M92.00,96.89 L93.54,97.00 L95.13,97.20 L96.24,96.71 L98.05,96.91 L99.31,97.50 L100.78,97.37 L102.26,97.21 L103.44,97.21 L105.28,97.12 L106.99,97.24 L108.10,97.31 L109.68,96.94 L110.76,97.39 L112.24,97.28 L114.08,97.27 L115.96,97.02 L117.73,97.06 L119.62,97.40 L120.76,96.81 L122.00,97.47 L123.44,97.20 L124.77,97.11 L126.16,96.98 L127.74,97.17 L129.60,97.25 L131.49,97.39 L133.43,97.24 L134.63,97.39 L136.55,97.42 L138.11,97.27 L139.35,97.37 L140.91,96.93 L142.02,97.38 L143.96,96.77 L145.73,97.03 L146.00,97.10" fill="none" stroke="#1f5a96" stroke-width="1.5" stroke-linejoin="round" stroke-linecap="round" />
<path d="M110.00,95.40 L113.00,95.30 L116.50,95.50" fill="none" stroke="#42196a" stroke-width="1.0" stroke-linejoin="round" stroke-linecap="round" />
<path d="M121.80,94.60 L122.50,94.80 L123.20,95.60" fill="none" stroke="#3db54a" stroke-width="1.4" stroke-linejoin="round" stroke-linecap="round" />
<path d="M51.50,96.65 C51.68,96.58 52.17,96.66 52.60,96.20 C53.03,95.74 53.65,94.82 54.10,93.90 C54.55,92.98 54.97,92.32 55.30,90.70 C55.63,89.08 55.88,86.65 56.10,84.20 C56.32,81.75 56.40,78.70 56.60,76.00 C56.80,73.30 57.03,71.00 57.30,68.00 C57.57,65.00 57.90,61.67 58.20,58.00 C58.50,54.33 58.87,49.00 59.10,46.00 C59.33,43.00 59.43,41.50 59.60,40.00 C59.77,38.50 59.93,37.08 60.10,37.00 C60.27,36.92 60.42,38.17 60.60,39.50 C60.78,40.83 60.97,43.25 61.20,45.00 C61.43,46.75 61.73,48.33 62.00,50.00 C62.27,51.67 62.57,53.33 62.80,55.00 C63.03,56.67 63.17,58.17 63.40,60.00 C63.63,61.83 63.85,64.00 64.20,66.00 C64.55,68.00 65.00,70.00 65.50,72.00 C66.00,74.00 66.62,76.25 67.20,78.00 C67.78,79.75 68.23,80.95 69.00,82.50 C69.77,84.05 70.92,85.95 71.80,87.30 C72.68,88.65 73.37,89.55 74.30,90.60 C75.23,91.65 76.28,92.78 77.40,93.60 C78.52,94.42 79.57,95.02 81.00,95.50 C82.43,95.98 85.17,96.33 86.00,96.50" fill="none" stroke="#8781c9" stroke-width="1.8" stroke-linejoin="round" stroke-linecap="round" />
<path d="M51.50,96.65 C51.68,96.58 52.17,96.66 52.60,96.20 C53.03,95.74 53.65,94.82 54.10,93.90 C54.55,92.98 54.97,92.32 55.30,90.70 C55.63,89.08 55.88,86.65 56.10,84.20 C56.32,81.75 56.42,78.53 56.60,76.00 C56.78,73.47 56.97,71.33 57.20,69.00 C57.43,66.67 57.75,64.17 58.00,62.00 C58.25,59.83 58.47,57.92 58.70,56.00 C58.93,54.08 59.20,52.00 59.40,50.50 C59.60,49.00 59.72,47.95 59.90,47.00 C60.08,46.05 60.28,44.67 60.50,44.80 C60.72,44.93 60.98,46.68 61.20,47.80 C61.42,48.92 61.58,50.30 61.80,51.50 C62.02,52.70 62.28,53.75 62.50,55.00 C62.72,56.25 62.87,57.50 63.10,59.00 C63.33,60.50 63.57,62.12 63.90,64.00 C64.23,65.88 64.62,68.20 65.10,70.30 C65.58,72.40 66.27,74.82 66.80,76.60 C67.33,78.38 67.80,79.77 68.30,81.00 C68.80,82.23 69.03,82.77 69.80,84.00 C70.57,85.23 72.02,87.17 72.90,88.40 C73.78,89.63 74.22,90.47 75.10,91.40 C75.98,92.33 77.13,93.30 78.20,94.00 C79.27,94.70 80.20,95.18 81.50,95.60 C82.80,96.02 85.25,96.35 86.00,96.50" fill="none" stroke="#17705e" stroke-width="1.8" stroke-linejoin="round" stroke-linecap="round" />
<path d="M53.20,96.65 C53.42,96.59 54.08,96.76 54.50,96.30 C54.92,95.84 55.30,94.83 55.70,93.90 C56.10,92.97 56.57,92.32 56.90,90.70 C57.23,89.08 57.45,86.17 57.70,84.20 C57.95,82.23 58.18,80.52 58.40,78.90 C58.62,77.28 58.78,75.98 59.00,74.50 C59.22,73.02 59.45,71.58 59.70,70.00 C59.95,68.42 60.25,66.67 60.50,65.00 C60.75,63.33 60.98,61.33 61.20,60.00 C61.42,58.67 61.58,57.80 61.80,57.00 C62.02,56.20 62.25,55.63 62.50,55.20 C62.75,54.77 63.03,54.33 63.30,54.40 C63.57,54.47 63.80,54.67 64.10,55.60 C64.40,56.53 64.82,58.60 65.10,60.00 C65.38,61.40 65.48,62.28 65.80,64.00 C66.12,65.72 66.48,68.20 67.00,70.30 C67.52,72.40 68.35,74.90 68.90,76.60 C69.45,78.30 69.85,79.27 70.30,80.50 C70.75,81.73 70.92,82.72 71.60,84.00 C72.28,85.28 73.50,86.97 74.40,88.20 C75.30,89.43 75.92,90.43 77.00,91.40 C78.08,92.37 79.73,93.40 80.90,94.00 C82.07,94.60 82.90,94.73 84.00,95.00 C85.10,95.27 86.92,95.50 87.50,95.60" fill="none" stroke="#f7941d" stroke-width="1.8" stroke-linejoin="round" stroke-linecap="round" />
<path d="M55.00,96.65 C55.17,96.59 55.60,96.76 56.00,96.30 C56.40,95.84 56.85,95.12 57.40,93.90 C57.95,92.68 58.62,90.62 59.30,89.00 C59.98,87.38 60.80,85.57 61.50,84.20 C62.20,82.83 62.83,81.70 63.50,80.80 C64.17,79.90 64.90,79.23 65.50,78.80 C66.10,78.37 66.52,78.27 67.10,78.20 C67.68,78.13 68.27,78.25 69.00,78.40 C69.73,78.55 70.67,78.62 71.50,79.10 C72.33,79.58 73.13,80.45 74.00,81.30 C74.87,82.15 75.87,83.15 76.70,84.20 C77.53,85.25 78.20,86.47 79.00,87.60 C79.80,88.73 80.58,90.05 81.50,91.00 C82.42,91.95 83.28,92.67 84.50,93.30 C85.72,93.93 87.22,94.37 88.80,94.80 C90.38,95.23 92.13,95.62 94.00,95.90 C95.87,96.18 99.00,96.40 100.00,96.50" fill="none" stroke="#42196a" stroke-width="1.8" stroke-linejoin="round" stroke-linecap="round" />
<path d="M55.00,96.65 C55.18,96.59 55.65,96.76 56.10,96.30 C56.55,95.84 57.08,95.12 57.70,93.90 C58.32,92.68 59.05,90.62 59.80,89.00 C60.55,87.38 61.47,85.55 62.20,84.20 C62.93,82.85 63.48,81.83 64.20,80.90 C64.92,79.97 65.70,79.12 66.50,78.60 C67.30,78.08 68.17,77.82 69.00,77.80 C69.83,77.78 70.67,78.02 71.50,78.50 C72.33,78.98 73.13,79.85 74.00,80.70 C74.87,81.55 75.87,82.55 76.70,83.60 C77.53,84.65 78.20,85.87 79.00,87.00 C79.80,88.13 80.58,89.43 81.50,90.40 C82.42,91.37 83.28,92.13 84.50,92.80 C85.72,93.47 87.22,93.93 88.80,94.40 C90.38,94.87 92.13,95.27 94.00,95.60 C95.87,95.93 99.00,96.27 100.00,96.40" fill="none" stroke="#3db54a" stroke-width="1.8" stroke-linejoin="round" stroke-linecap="round" />
<path d="M56.50,96.65 C56.70,96.61 57.15,96.76 57.70,96.40 C58.25,96.04 59.05,95.32 59.80,94.50 C60.55,93.68 61.25,92.68 62.20,91.50 C63.15,90.32 64.48,88.65 65.50,87.40 C66.52,86.15 67.32,84.80 68.30,84.00 C69.28,83.20 70.48,82.73 71.40,82.60 C72.32,82.47 73.03,82.83 73.80,83.20 C74.57,83.57 75.22,84.13 76.00,84.80 C76.78,85.47 77.63,86.37 78.50,87.20 C79.37,88.03 80.28,89.17 81.20,89.80 C82.12,90.43 83.10,90.70 84.00,91.00 C84.90,91.30 85.68,91.33 86.60,91.60 C87.52,91.87 88.52,92.27 89.50,92.60 C90.48,92.93 91.25,93.20 92.50,93.60 C93.75,94.00 95.25,94.60 97.00,95.00 C98.75,95.40 102.00,95.83 103.00,96.00" fill="none" stroke="#1f5a96" stroke-width="1.8" stroke-linejoin="round" stroke-linecap="round" />
<path d="M56.00,96.65 C56.35,96.64 57.10,96.71 58.10,96.60 C59.10,96.49 60.68,96.23 62.00,96.00 C63.32,95.77 64.60,95.58 66.00,95.20 C67.40,94.82 68.90,94.22 70.40,93.70 C71.90,93.18 73.32,92.50 75.00,92.10 C76.68,91.70 78.83,91.35 80.50,91.30 C82.17,91.25 83.62,91.53 85.00,91.80 C86.38,92.07 86.93,92.47 88.80,92.90 C90.67,93.33 93.83,94.00 96.20,94.40 C98.57,94.80 100.70,95.07 103.00,95.30 C105.30,95.53 106.33,95.67 110.00,95.80 C113.67,95.93 118.88,96.00 125.00,96.10 C131.12,96.20 143.08,96.35 146.70,96.40" fill="none" stroke="#c8102e" stroke-width="1.8" stroke-linejoin="round" stroke-linecap="round" />
<path d="M346.00,99.93 L346.93,100.64 L347.81,100.01 L348.76,99.53 L349.67,100.19 L350.73,99.39 L351.52,99.39 L352.59,100.29 L353.24,100.72 L354.39,100.23 L355.35,99.49 L355.99,100.04 L356.65,99.54 L357.41,99.30 L358.29,99.91 L359.38,100.03 L360.35,100.00 L361.34,99.94 L362.12,100.75 L363.29,100.51 L364.30,99.72 L365.06,99.68 L365.72,100.40 L366.57,100.52 L367.41,100.69 L368.50,99.25 L369.24,100.62 L370.12,100.72 L370.97,99.36 L371.94,100.42 L372.71,99.38 L373.52,100.70 L374.56,99.43 L375.33,99.40 L375.99,100.45 L376.71,100.09 L377.59,99.54 L378.61,99.45 L379.59,99.42 L380.45,99.57 L381.22,100.71 L382.29,99.71 L383.39,99.57 L384.24,100.53 L385.21,99.40 L386.38,99.57 L387.15,100.41 L387.95,99.69 L388.62,99.39 L389.57,99.61 L390.52,99.81 L391.40,100.69 L392.29,100.11 L393.39,99.52 L394.00,100.00" fill="none" stroke="#7b72c8" stroke-width="1.3" stroke-linejoin="round" stroke-linecap="round" />
<path d="M397.00,98.10 L398.50,101.00 L399.80,104.80 L400.50,101.50 L401.30,98.10" fill="none" stroke="#f7941d" stroke-width="1.4" stroke-linejoin="round" stroke-linecap="round" />
<path d="M308.50,98.20 C308.68,98.10 309.27,98.13 309.60,97.60 C309.93,97.07 310.25,96.27 310.50,95.00 C310.75,93.73 310.90,92.17 311.10,90.00 C311.30,87.83 311.50,84.83 311.70,82.00 C311.90,79.17 312.10,76.00 312.30,73.00 C312.50,70.00 312.68,66.67 312.90,64.00 C313.12,61.33 313.33,59.33 313.60,57.00 C313.87,54.67 314.20,52.25 314.50,50.00 C314.80,47.75 315.12,45.20 315.40,43.50 C315.68,41.80 315.95,40.62 316.20,39.80 C316.45,38.98 316.67,38.63 316.90,38.60 C317.13,38.57 317.35,38.78 317.60,39.60 C317.85,40.42 318.13,41.77 318.40,43.50 C318.67,45.23 318.92,47.75 319.20,50.00 C319.48,52.25 319.83,55.00 320.10,57.00 C320.37,59.00 320.50,60.00 320.80,62.00 C321.10,64.00 321.55,66.83 321.90,69.00 C322.25,71.17 322.50,73.17 322.90,75.00 C323.30,76.83 323.72,78.33 324.30,80.00 C324.88,81.67 325.70,83.67 326.40,85.00 C327.10,86.33 327.67,87.12 328.50,88.00 C329.33,88.88 330.33,89.58 331.40,90.30 C332.47,91.02 333.97,91.75 334.90,92.30 C335.83,92.85 336.32,93.15 337.00,93.60 C337.68,94.05 338.25,94.57 339.00,95.00 C339.75,95.43 340.33,95.90 341.50,96.20 C342.67,96.50 344.25,96.67 346.00,96.80 C347.75,96.93 350.17,96.90 352.00,97.00 C353.83,97.10 355.67,97.17 357.00,97.40 C358.33,97.63 359.50,98.23 360.00,98.40" fill="none" stroke="#7b72c8" stroke-width="1.8" stroke-linejoin="round" stroke-linecap="round" />
<path d="M312.50,98.20 C312.92,98.03 314.43,97.70 315.00,97.20 C315.57,96.70 315.45,96.18 315.90,95.20 C316.35,94.22 317.08,92.75 317.70,91.30 C318.32,89.85 318.97,87.90 319.60,86.50 C320.23,85.10 320.78,83.90 321.50,82.90 C322.22,81.90 323.18,81.03 323.90,80.50 C324.62,79.97 325.15,79.87 325.80,79.70 C326.45,79.53 327.10,79.48 327.80,79.50 C328.50,79.52 329.28,79.60 330.00,79.80 C330.72,80.00 331.10,80.15 332.10,80.70 C333.10,81.25 334.68,82.18 336.00,83.10 C337.32,84.02 338.93,85.28 340.00,86.20 C341.07,87.12 341.43,87.78 342.40,88.60 C343.37,89.42 344.50,90.28 345.80,91.10 C347.10,91.92 348.50,92.85 350.20,93.50 C351.90,94.15 353.70,94.62 356.00,95.00 C358.30,95.38 360.83,95.52 364.00,95.80 C367.17,96.08 370.67,96.40 375.00,96.70 C379.33,97.00 386.17,97.37 390.00,97.60 C393.83,97.83 396.67,98.02 398.00,98.10" fill="none" stroke="#17705e" stroke-width="1.8" stroke-linejoin="round" stroke-linecap="round" />
<path d="M309.50,98.20 C309.90,98.10 310.85,98.03 311.90,97.60 C312.95,97.17 314.52,96.41 315.80,95.60 C317.08,94.79 318.32,93.60 319.60,92.75 C320.88,91.90 322.22,91.03 323.50,90.50 C324.78,89.97 326.13,89.78 327.30,89.60 C328.47,89.42 329.53,89.40 330.50,89.40 C331.47,89.40 331.52,89.42 333.10,89.60 C334.68,89.78 337.70,90.03 340.00,90.50 C342.30,90.97 344.45,91.72 346.90,92.40 C349.35,93.08 351.85,94.00 354.70,94.60 C357.55,95.20 360.62,95.62 364.00,96.00 C367.38,96.38 370.67,96.60 375.00,96.90 C379.33,97.20 386.50,97.60 390.00,97.80 C393.50,98.00 395.00,98.05 396.00,98.10" fill="none" stroke="#f7941d" stroke-width="1.8" stroke-linejoin="round" stroke-linecap="round" />
<path d="M310.50,98.20 C310.92,98.10 312.08,98.00 313.00,97.60 C313.92,97.20 314.90,96.45 316.00,95.80 C317.10,95.15 318.35,94.30 319.60,93.70 C320.85,93.10 322.22,92.58 323.50,92.20 C324.78,91.82 325.70,91.55 327.30,91.40 C328.90,91.25 330.98,91.20 333.10,91.30 C335.22,91.40 337.18,91.57 340.00,92.00 C342.82,92.43 347.00,93.32 350.00,93.90 C353.00,94.48 355.33,95.05 358.00,95.50 C360.67,95.95 362.67,96.27 366.00,96.60 C369.33,96.93 374.00,97.27 378.00,97.50 C382.00,97.73 388.00,97.92 390.00,98.00" fill="none" stroke="#42196a" stroke-width="1.8" stroke-linejoin="round" stroke-linecap="round" />
<path d="M312.00,98.20 C312.63,98.03 314.47,97.47 315.80,97.20 C317.13,96.93 318.08,96.88 320.00,96.60 C321.92,96.32 325.12,95.78 327.30,95.50 C329.48,95.22 330.98,95.05 333.10,94.90 C335.22,94.75 337.18,94.65 340.00,94.60 C342.82,94.55 347.00,94.57 350.00,94.60 C353.00,94.63 355.33,94.65 358.00,94.80 C360.67,94.95 363.00,95.22 366.00,95.50 C369.00,95.78 372.67,96.17 376.00,96.50 C379.33,96.83 383.00,97.25 386.00,97.50 C389.00,97.75 392.67,97.92 394.00,98.00" fill="none" stroke="#3db54a" stroke-width="1.8" stroke-linejoin="round" stroke-linecap="round" />
<rect x="0.75" y="0.75" width="518.5" height="268.5" fill="none" stroke="#000" stroke-width="1.5"/>
</svg></body></html>
